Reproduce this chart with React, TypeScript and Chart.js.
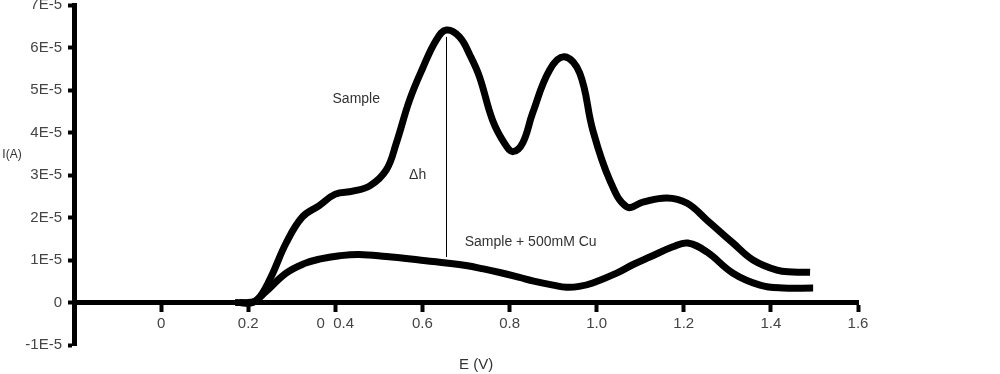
import React, { useEffect, useRef } from "react";
import { Chart, registerables } from "chart.js";

Chart.register(...registerables);

// Potential E (V) and current I in units of 1E-5 A
const sampleE = [0.17, 0.2, 0.22, 0.25, 0.287, 0.324, 0.363, 0.4, 0.44, 0.48, 0.517, 0.54, 0.57, 0.6, 0.632, 0.655, 0.685, 0.71, 0.731, 0.761, 0.79, 0.808, 0.83, 0.853, 0.892, 0.926, 0.961, 0.991, 1.03, 1.069, 1.106, 1.161, 1.207, 1.253, 1.313, 1.359, 1.414, 1.45, 1.49];
const sampleI = [0, 0, 0.05, 0.55, 1.4, 2.01, 2.28, 2.55, 2.62, 2.75, 3.12, 3.75, 4.75, 5.5, 6.18, 6.41, 6.25, 5.8, 5.31, 4.29, 3.72, 3.55, 3.75, 4.46, 5.47, 5.78, 5.4, 4.06, 2.88, 2.25, 2.36, 2.46, 2.34, 1.94, 1.4, 1.0, 0.76, 0.72, 0.71];

const cuE = [0.18, 0.21, 0.24, 0.287, 0.33, 0.363, 0.41, 0.455, 0.517, 0.593, 0.655, 0.7, 0.74, 0.78, 0.823, 0.853, 0.9, 0.931, 0.96, 0.991, 1.046, 1.085, 1.122, 1.175, 1.209, 1.253, 1.313, 1.375, 1.428, 1.497];
const cuI = [0, 0, 0.25, 0.69, 0.92, 1.02, 1.1, 1.13, 1.08, 1.0, 0.93, 0.87, 0.79, 0.7, 0.59, 0.51, 0.41, 0.36, 0.38, 0.46, 0.69, 0.9, 1.07, 1.31, 1.4, 1.19, 0.69, 0.41, 0.34, 0.34];

const xMin = -0.2;
const xMax = 1.6;
const yMin = -1;
const yMax = 7;

const deltaH = { e: 0.653, top: 6.25, bottom: 1.07 };
const annotations = [
  { text: "Sample", e: 0.448, i: 4.79, align: "center" },
  { text: "\u0394h", e: 0.589, i: 3.0, align: "center" },
  { text: "Sample + 500mM Cu", e: 0.697, i: 1.42, align: "left" },
];
const xTitle = "E (V)";
const yTitle = "I(A)";

const FONT = "'Liberation Sans', Arial, sans-serif";

const toPts = (xs: number[], ys: number[]) => xs.map((x, k) => ({ x, y: ys[k] }));

const extraPlugin = {
  id: "extras",
  afterDatasetsDraw(chart: any) {
    const { ctx, scales } = chart;
    const x = scales.x;
    const y = scales.y;
    ctx.save();
    ctx.strokeStyle = "#000";
    ctx.lineWidth = 1;
    ctx.beginPath();
    const lx = Math.round(x.getPixelForValue(deltaH.e)) + 0.5;
    ctx.moveTo(lx, y.getPixelForValue(deltaH.top));
    ctx.lineTo(lx, y.getPixelForValue(deltaH.bottom));
    ctx.stroke();
    ctx.fillStyle = "#333";
    ctx.font = `14px ${FONT}`;
    ctx.textBaseline = "middle";
    for (const a of annotations) {
      ctx.textAlign = a.align;
      ctx.fillText(a.text, x.getPixelForValue(a.e), y.getPixelForValue(a.i));
    }
    ctx.font = `15px ${FONT}`;
    ctx.textAlign = "center";
    ctx.fillText(xTitle, chart.chartArea.left + (chart.chartArea.right - chart.chartArea.left) * 0.513, 365);
    ctx.font = `12px ${FONT}`;
    ctx.fillText(yTitle, 12, 155);
    ctx.restore();
  },
};

export default function App() {
  const ref = useRef<HTMLCanvasElement | null>(null);
  useEffect(() => {
    if (!ref.current) return;
    const chart = new Chart(ref.current, {
      type: "line",
      data: {
        datasets: [
          {
            label: "Sample",
            data: toPts(sampleE, sampleI),
            borderColor: "#000",
            borderWidth: 7,
            pointRadius: 0,
            tension: 0.4,
            fill: false,
          },
          {
            label: "Sample + 500mM Cu",
            data: toPts(cuE, cuI),
            borderColor: "#000",
            borderWidth: 7,
            pointRadius: 0,
            tension: 0.4,
            fill: false,
          },
        ],
      },
      options: {
        animation: false,
        responsive: false,
        layout: { padding: { left: 0, top: 5, right: 142, bottom: 29 } },
        plugins: { legend: { display: false }, tooltip: { enabled: false } },
        scales: {
          x: {
            type: "linear",
            position: { y: 0 },
            min: xMin,
            max: xMax,
            ticks: {
              stepSize: 0.2,
              color: "#444",
              font: { family: FONT, size: 15 },
              padding: 5,
              maxRotation: 0,
              autoSkip: false,
              callback: (v: any) => {
                const r = Math.round(Number(v) * 10) / 10;
                if (r < 0) return "";
                if (r === 0) return "0";
                if (r === 0.4) return "0  0.4";
                return r.toFixed(1);
              },
            },
            grid: { drawOnChartArea: false, drawTicks: true, tickLength: 7, tickWidth: 4, tickColor: "#000" },
            border: { display: true, color: "#000", width: 5 },
            afterFit: (s: any) => {
              s.height = 0;
              s.paddingLeft = 0;
              s.paddingRight = 0;
            },
          },
          y: {
            type: "linear",
            position: "left",
            min: yMin,
            max: yMax,
            ticks: {
              stepSize: 1,
              color: "#444",
              font: { family: FONT, size: 15 },
              padding: 6,
              callback: (v: any) => {
                const r = Math.round(Number(v));
                return r === 0 ? "0" : `${r}E-5`;
              },
            },
            grid: { drawOnChartArea: false, drawTicks: true, tickLength: 6, tickWidth: 4, tickColor: "#000" },
            border: { display: true, color: "#000", width: 5 },
            afterFit: (s: any) => {
              s.width = 74;
              s.paddingTop = 0;
              s.paddingBottom = 0;
            },
          },
        },
      },
      plugins: [extraPlugin],
    } as any);
    return () => chart.destroy();
  }, []);
  return (
    <div style={{ position: "absolute", left: 0, top: 0, width: 1000, height: 374, background: "#fff" }}>
      <canvas ref={ref} width={1000} height={374} style={{ display: "block" }} />
    </div>
  );
}
